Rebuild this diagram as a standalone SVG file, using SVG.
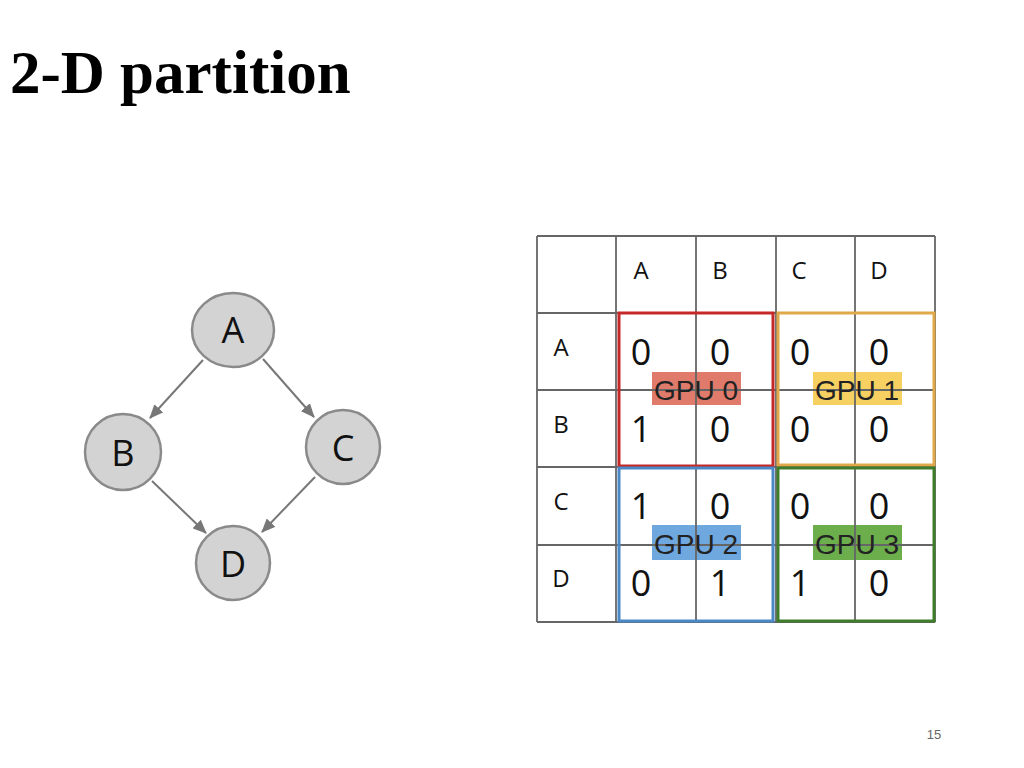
<svg xmlns="http://www.w3.org/2000/svg" width="1024" height="768" viewBox="0 0 1024 768">
<style>
.n{fill:#d3d3d3;stroke:#8a8a8a;stroke-width:2.5}
.nl{font-family:"Open Sans","DejaVu Sans",sans-serif;font-size:36px;fill:#111;text-anchor:middle}
.e{stroke:#777;stroke-width:2;fill:none;marker-end:url(#ah)}
.g{stroke:#666;stroke-width:1.8;fill:none}
.h{font-family:"Open Sans","DejaVu Sans",sans-serif;font-size:24px;fill:#111;text-anchor:middle}
.d{font-family:"Open Sans","DejaVu Sans",sans-serif;font-size:36px;fill:#111;text-anchor:middle}
.gl{font-family:"Liberation Sans",Arial,sans-serif;font-size:28px;fill:#222;text-anchor:middle}
</style>
<defs><marker id="ah" markerWidth="14" markerHeight="12" refX="13" refY="6" orient="auto" markerUnits="userSpaceOnUse"><path d="M0,0 L14,6 L0,12 z" fill="#777"/></marker></defs>
<rect width="1024" height="768" fill="#fff"/>
<text x="10" y="93" font-family="Liberation Serif,serif" font-weight="bold" font-size="61">2-D partition</text>
<g id="connectors">
<line class="e" x1="203" y1="360" x2="150" y2="418"/>
<line class="e" x1="263" y1="359" x2="314" y2="417"/>
<line class="e" x1="152" y1="481" x2="206" y2="533"/>
<line class="e" x1="315" y1="477" x2="262" y2="532"/>
</g>
<g id="nodeA"><ellipse class="n" cx="233" cy="330" rx="41" ry="37"/><text class="nl" x="233" y="343">A</text></g>
<g id="nodeB"><circle class="n" cx="123" cy="452" r="38"/><text class="nl" x="123" y="466">B</text></g>
<g id="nodeC"><circle class="n" cx="343" cy="447" r="37"/><text class="nl" x="343" y="461">C</text></g>
<g id="nodeD"><circle class="n" cx="233" cy="563" r="37"/><text class="nl" x="233" y="577">D</text></g>
<g id="matrix">
<rect x="652" y="372" width="89" height="33" fill="#e07a6a"/>
<rect x="813" y="372" width="89" height="33" fill="#f7d062"/>
<rect x="652" y="525" width="89" height="35" fill="#6fa7df"/>
<rect x="813" y="525" width="89" height="35" fill="#6cad4c"/>
<path class="g" d="M537,236H935M537,313H935M537,390H935M537,467H935M537,545H935M537,622H935M537,236V622M616,236V622M696,236V622M776,236V622M855,236V622M935,236V622"/>
<rect x="619" y="313" width="154" height="153" fill="none" stroke="#c62828" stroke-width="3"/>
<rect x="778" y="313" width="156" height="152" fill="none" stroke="#e0a848" stroke-width="3"/>
<rect x="619" y="468" width="154" height="153" fill="none" stroke="#4a88c8" stroke-width="3"/>
<rect x="778" y="468" width="156" height="153" fill="none" stroke="#3f7d2a" stroke-width="3"/>
<text class="h" x="641" y="279">A</text><text class="h" x="720" y="279">B</text><text class="h" x="799" y="279">C</text><text class="h" x="879" y="279">D</text>
<text class="h" x="561" y="356">A</text><text class="h" x="561" y="433">B</text><text class="h" x="561" y="510">C</text><text class="h" x="561" y="587">D</text>
<text class="d" x="641" y="365">0</text><text class="d" x="720" y="365">0</text><text class="d" x="800" y="365">0</text><text class="d" x="879" y="365">0</text>
<text class="d" x="641" y="442">1</text><text class="d" x="720" y="442">0</text><text class="d" x="800" y="442">0</text><text class="d" x="879" y="442">0</text>
<text class="d" x="641" y="519">1</text><text class="d" x="720" y="519">0</text><text class="d" x="800" y="519">0</text><text class="d" x="879" y="519">0</text>
<text class="d" x="641" y="596">0</text><text class="d" x="720" y="596">1</text><text class="d" x="800" y="596">1</text><text class="d" x="879" y="596">0</text>
<text class="gl" x="696" y="400">GPU 0</text><text class="gl" x="857" y="400">GPU 1</text>
<text class="gl" x="696" y="554">GPU 2</text><text class="gl" x="857" y="554">GPU 3</text>
</g>
<text x="934" y="739" font-family="Liberation Sans,sans-serif" font-size="13" fill="#666" text-anchor="middle">15</text>
</svg>
